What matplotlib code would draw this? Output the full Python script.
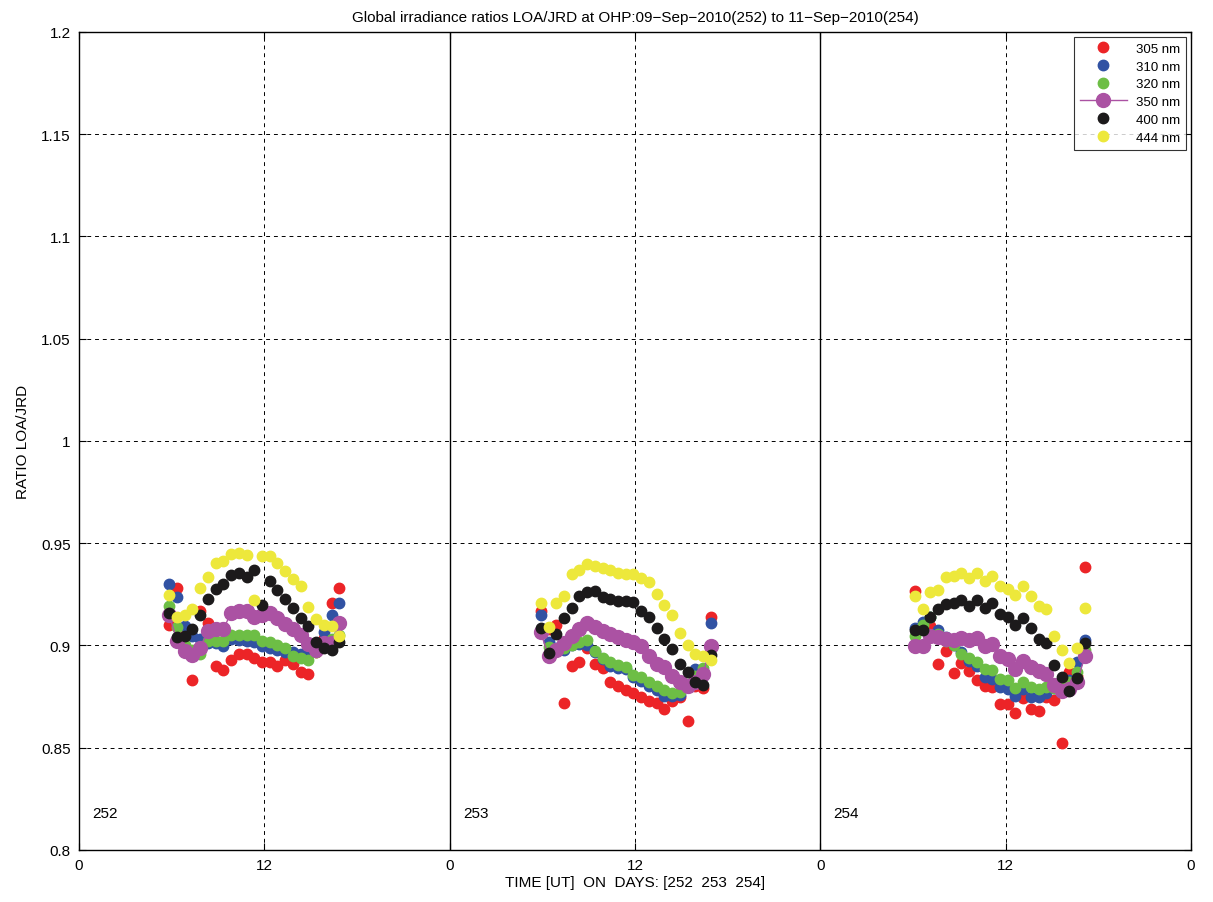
import numpy as np
import matplotlib
matplotlib.use('Agg')
import matplotlib.pyplot as plt

plt.rcParams['font.family'] = ['Liberation Sans', 'DejaVu Sans']

# ---------------------------------------------------------------------------
# Data: ratios LOA/JRD, half-hourly scans, one list per day (252, 253, 254)
# ---------------------------------------------------------------------------
DAYS = [252, 253, 254]
FIRST_SCAN_UT = [5.85, 5.9, 6.13]   # hour of first scan on each day
SCAN_STEP = 0.5                       # hours between scans

R305 = [
    [0.910, 0.928, 0.905, 0.883, 0.917, 0.911, 0.890, 0.888, 0.893, 0.896, 0.896, 0.894,
     0.892, 0.892, 0.890, 0.893, 0.891, 0.887, 0.886, 0.897, 0.9035, 0.921, 0.928],
    [0.917, 0.908, 0.910, 0.872, 0.890, 0.892, 0.899, 0.891, 0.889, 0.882, 0.880, 0.878,
     0.877, 0.875, 0.873, 0.872, 0.869, 0.873, 0.875, 0.863, 0.880, 0.879, 0.914],
    [0.9268, 0.908, 0.9097, 0.891, 0.8975, 0.8866, 0.8914, 0.8877, 0.8832, 0.8803, 0.8795, 0.8714,
     0.8714, 0.8668, 0.8742, 0.869, 0.8678, 0.875, 0.8735, 0.8523, 0.8868, 0.885, 0.9382],
]
R310 = [
    [0.930, 0.9236, 0.9095, 0.9045, 0.903, 0.901, 0.901, 0.8996, 0.9032, 0.9025, 0.902, 0.9015,
     0.8996, 0.899, 0.8978, 0.897, 0.8966, 0.896, 0.8958, 0.898, 0.9067, 0.915, 0.921],
    [0.915, 0.9015, 0.899, 0.898, 0.900, 0.9007, 0.900, 0.8966, 0.8934, 0.890, 0.889, 0.8885,
     0.8844, 0.8828, 0.880, 0.878, 0.8754, 0.8754, 0.876, 0.880, 0.8885, 0.885, 0.911],
    [0.9086, 0.9113, 0.9138, 0.9076, 0.904, 0.900, 0.897, 0.8926, 0.890, 0.8848, 0.8836, 0.8795,
     0.8787, 0.8754, 0.8787, 0.875, 0.875, 0.8766, 0.879, 0.882, 0.883, 0.892, 0.9027],
]
R320 = [
    [0.9195, 0.909, 0.900, 0.898, 0.896, 0.902, 0.902, 0.902, 0.905, 0.905, 0.905, 0.905,
     0.902, 0.9015, 0.900, 0.899, 0.895, 0.894, 0.893, 0.897, 0.900, 0.903, 0.905],
    [0.907, 0.8995, 0.8985, 0.899, 0.900, 0.9015, 0.9025, 0.8975, 0.894, 0.892, 0.8905, 0.8896,
     0.8856, 0.8848, 0.882, 0.880, 0.878, 0.8768, 0.8771, 0.881, 0.885, 0.889, 0.899],
    [0.9048, 0.910, 0.914, 0.9056, 0.902, 0.900, 0.896, 0.894, 0.892, 0.8885, 0.888, 0.8836,
     0.883, 0.8792, 0.882, 0.8795, 0.8787, 0.8795, 0.879, 0.880, 0.882, 0.887, 0.898],
]
R350 = [
    [0.915, 0.902, 0.8975, 0.8955, 0.899, 0.907, 0.908, 0.908, 0.916, 0.917, 0.917, 0.9138,
     0.915, 0.916, 0.9133, 0.9107, 0.908, 0.905, 0.9007, 0.898, 0.901, 0.901, 0.911],
    [0.9064, 0.8947, 0.8978, 0.901, 0.9044, 0.9081, 0.911, 0.9089, 0.9072, 0.9056, 0.904, 0.9028,
     0.9015, 0.8996, 0.895, 0.891, 0.8893, 0.8852, 0.882, 0.880, 0.882, 0.886, 0.8997],
    [0.8999, 0.8999, 0.9044, 0.904, 0.9032, 0.9028, 0.9035, 0.9028, 0.9035, 0.8999, 0.9007, 0.895,
     0.8934, 0.8885, 0.8926, 0.8893, 0.8877, 0.8861, 0.8807, 0.8779, 0.8787, 0.882, 0.895],
]
R400 = [
    [0.9157, 0.9043, 0.9046, 0.9081, 0.9149, 0.9227, 0.9276, 0.9301, 0.9346, 0.9353, 0.9336, 0.9369,
     0.9198, 0.9314, 0.9271, 0.9229, 0.9185, 0.9136, 0.9095, 0.9016, 0.8986, 0.898, 0.9015],
    [0.9086, 0.8963, 0.9056, 0.9133, 0.9182, 0.9243, 0.926, 0.9268, 0.9236, 0.9227, 0.9216, 0.9216,
     0.9211, 0.917, 0.9138, 0.9086, 0.9032, 0.8983, 0.891, 0.8872, 0.882, 0.8807, 0.8954],
    [0.9076, 0.9076, 0.9141, 0.9178, 0.9203, 0.921, 0.9224, 0.9194, 0.9224, 0.9181, 0.921, 0.9154,
     0.9141, 0.910, 0.9133, 0.9084, 0.9032, 0.901, 0.8905, 0.8848, 0.8779, 0.8839, 0.901],
]
R444 = [
    [0.9247, 0.9138, 0.9149, 0.9178, 0.9281, 0.9336, 0.9402, 0.9412, 0.9447, 0.9452, 0.9442, 0.9224,
     0.9436, 0.9436, 0.9402, 0.9363, 0.9325, 0.9289, 0.919, 0.913, 0.910, 0.9097, 0.9045],
    [0.921, 0.909, 0.921, 0.924, 0.935, 0.937, 0.940, 0.939, 0.938, 0.937, 0.9355, 0.935,
     0.935, 0.933, 0.931, 0.925, 0.920, 0.915, 0.906, 0.900, 0.896, 0.895, 0.893],
    [0.924, 0.9178, 0.9263, 0.9273, 0.9333, 0.9338, 0.9355, 0.9328, 0.9355, 0.9317, 0.9338, 0.9292,
     0.9276, 0.9247, 0.9289, 0.924, 0.9191, 0.9178, 0.9045, 0.8978, 0.8914, 0.8986, 0.9182],
]

SERIES = [
    ('305 nm', R305, '#ec2427'),
    ('310 nm', R310, '#3152a3'),
    ('320 nm', R320, '#6dbe45'),
    ('350 nm', R350, '#ab52a3'),
    ('400 nm', R400, '#1c1a1b'),
    ('444 nm', R444, '#ede83b'),
]


def _join_days(per_day):
    """Concatenate days on one continuous hour axis, NaN between days."""
    xs, ys = [], []
    for i, vals in enumerate(per_day):
        t = 24 * i + FIRST_SCAN_UT[i] + SCAN_STEP * np.arange(len(vals))
        xs.extend(list(t) + [np.nan])
        ys.extend(list(vals) + [np.nan])
    return np.array(xs), np.array(ys)


fig = plt.figure(figsize=(12.13, 9.03), dpi=100)
ax = fig.add_axes([0.0651, 0.0576, 0.9168, 0.9059])

for label, per_day, color in SERIES:
    x, y = _join_days(per_day)
    if label == '350 nm':
        ax.plot(x, y, '-o', color=color, lw=1.0, ms=10, mec=color, label=label, zorder=3)
    else:
        ax.plot(x, y, 'o', color=color, ms=7.5, mec=color, label=label, zorder=3)

# day separators
for d in range(1, len(DAYS)):
    ax.axvline(24 * d, color='black', lw=1.0, zorder=2)

ax.set_xlim(0, 24 * len(DAYS))
ax.set_ylim(0.8, 1.2)
ax.set_xticks(np.arange(0, 24 * len(DAYS) + 1, 12))
ax.set_xticklabels(['0' if h % 24 == 0 else '12' for h in range(0, 24 * len(DAYS) + 1, 12)])
yt = np.round(np.arange(0.8, 1.2001, 0.05), 2)
ax.set_yticks(yt)
ax.set_yticklabels([f'{v:g}' for v in yt])

ax.grid(True, color='black', ls=(0, (4, 4)), lw=0.7)
ax.set_axisbelow(True)
ax.tick_params(direction='in', top=True, right=True, length=5, labelsize=11, pad=6)
for s in ax.spines.values():
    s.set_linewidth(1.0)

for i, d in enumerate(DAYS):
    ax.text(24 * i + 0.85, 0.818, str(d), fontsize=11, ha='left', va='center')

ax.set_title('Global irradiance ratios LOA/JRD at OHP:09\u2212Sep\u22122010(252) to 11\u2212Sep\u22122010(254)',
             fontsize=11, pad=8)
ax.set_xlabel('TIME [UT]  ON  DAYS: [252  253  254]', fontsize=11, labelpad=2)
ax.set_ylabel('RATIO LOA/JRD', fontsize=11, labelpad=8)

leg = ax.legend(loc='upper right', fontsize=9.5, frameon=True, fancybox=False,
                edgecolor='black', borderaxespad=0.35, handlelength=3.6,
                handletextpad=0.7, labelspacing=0.42, borderpad=0.45)
leg.get_frame().set_linewidth(0.8)

fig.savefig('out.png', dpi=100)
